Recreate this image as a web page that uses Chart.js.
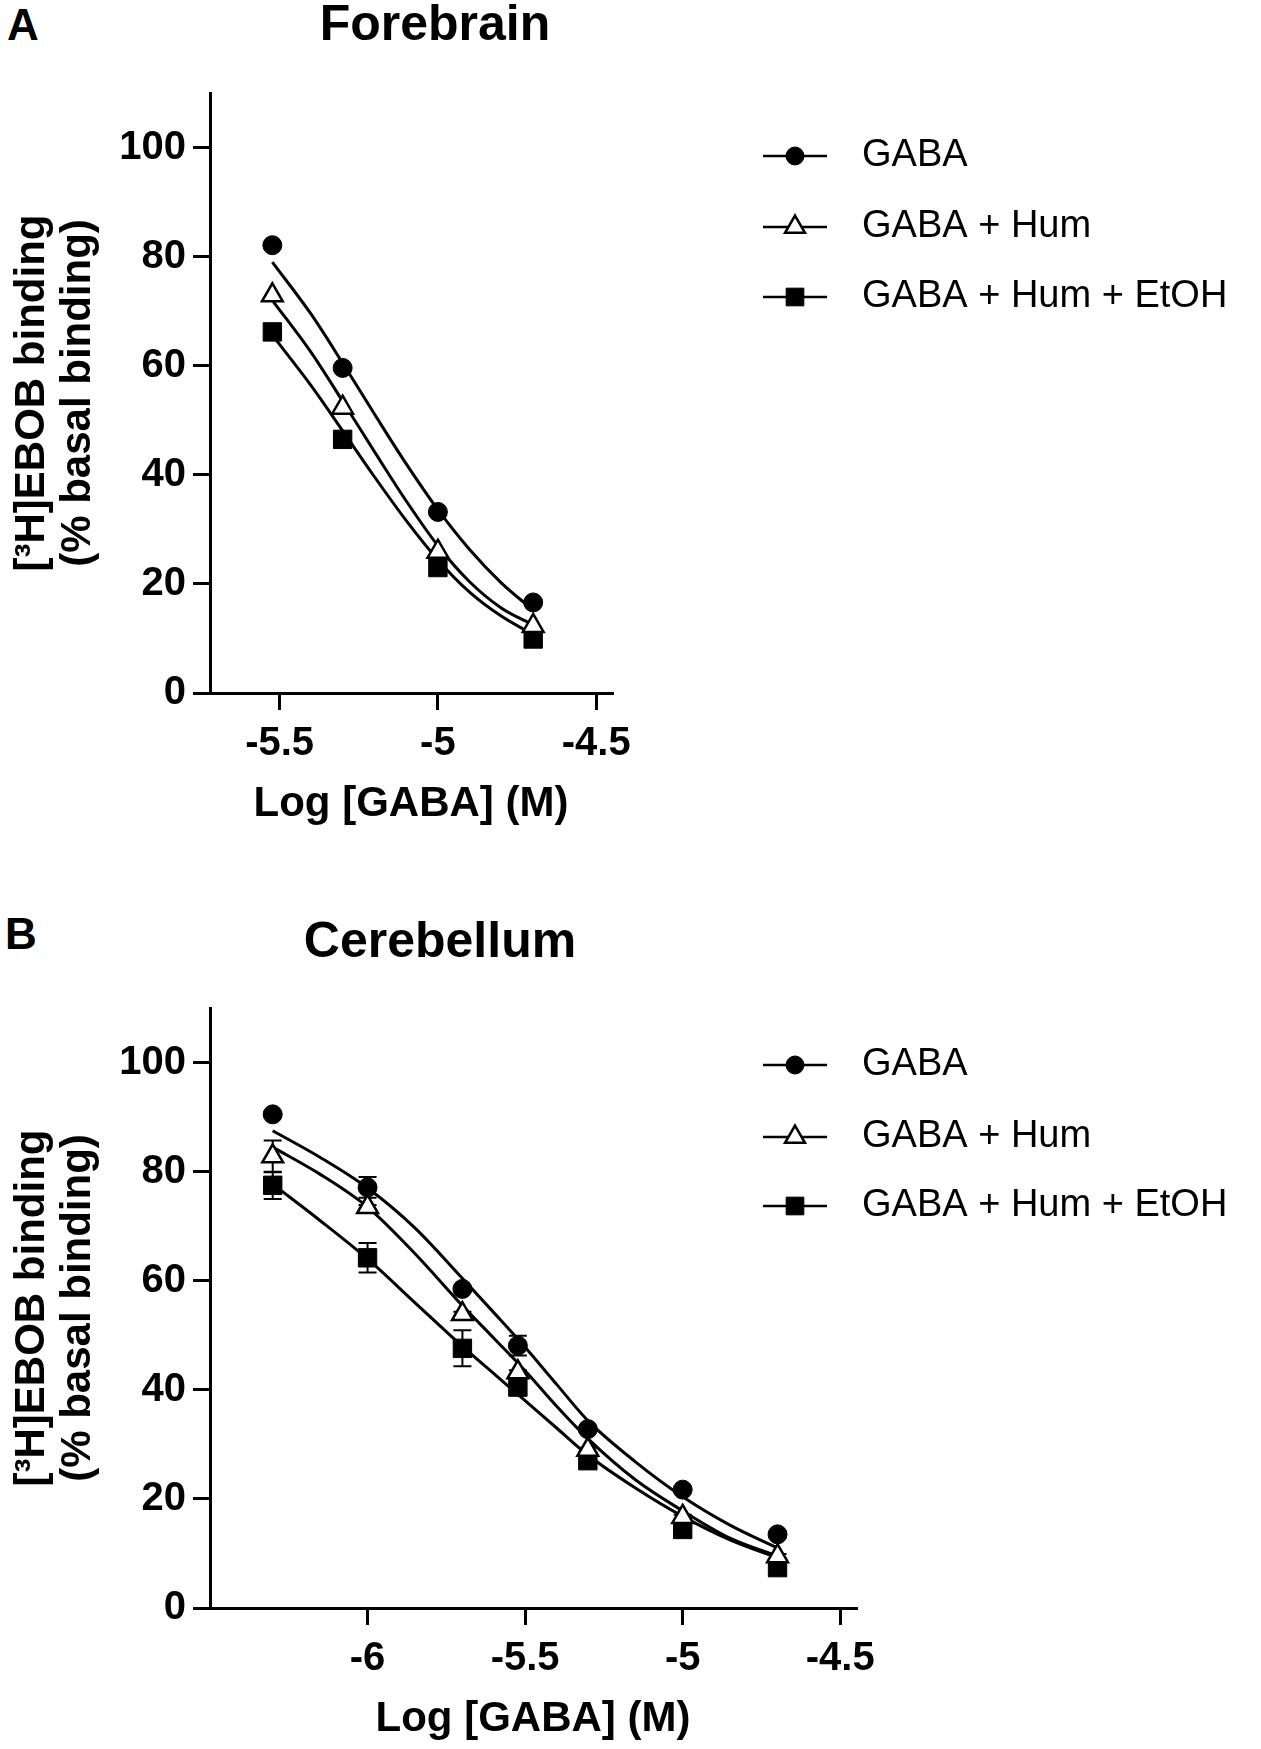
<!DOCTYPE html>
<html>
<head>
<meta charset="utf-8">
<script src="https://cdn.jsdelivr.net/npm/chart.js@4.4.0/dist/chart.umd.min.js"></script>
<style>
    body {
        margin: 0;
        background: #fff;
        width: 1261px;
        height: 1749px;
        position: relative;
        overflow: hidden;
        font-family: "Liberation Sans", Arial, sans-serif;
    }
    .lbl {
        position: absolute;
        font-weight: bold;
        line-height: 1;
        color: #000;
        white-space: nowrap;
        transform: translate(-50%, -50%);
    }
    .wrap {
        position: absolute;
        left: 0;
        width: 1261px;
        height: 830px;
    }
</style>
</head>
<body>
<div class="lbl" style="left:23px;top:25px;font-size:44px">A</div>
<div class="lbl" style="left:435px;top:23px;font-size:50px">Forebrain</div>
<div class="lbl" style="left:21px;top:934px;font-size:44px">B</div>
<div class="lbl" style="left:440px;top:940px;font-size:50px">Cerebellum</div>

<div class="wrap" style="top:0"><canvas id="chartA"></canvas></div>
<div class="wrap" style="top:915px"><canvas id="chartB"></canvas></div>

<script>
/* ================================
   Data
================================ */
const legendLabels = ["GABA", "GABA + Hum", "GABA + Hum + EtOH"];
const yTicks = [0, 20, 40, 60, 80, 100];

// A - Forebrain
const forebrainLogGaba = [-5.523, -5.301, -5.0, -4.699];
const forebrainGaba = [82.1, 59.6, 33.2, 16.6];
const forebrainHum = [72.9, 52.3, 25.9, 12.3];
const forebrainHumEtoh = [66.2, 46.5, 23.0, 9.9];

const forebrainFitX = [-5.523, -5.4, -5.3, -5.2, -5.1, -5.0, -4.9, -4.8, -4.699];
const forebrainFitGaba = [79, 69.4, 60.4, 51.1, 42, 33.6, 26.3, 20.2, 15.2];
const forebrainFitHum = [72, 62.4, 53.4, 44.2, 35.2, 27, 20.4, 15.6, 12.5];
const forebrainFitHumEtoh = [65.6, 56.3, 48.0, 39.6, 31.6, 24.4, 18.5, 14.1, 10.7];

const forebrainXTicks = [-5.5, -5, -4.5];
const forebrainXLabels = ["-5.5", "-5", "-4.5"];

// B - Cerebellum
const cerebellumLogGaba = [-6.301, -6.0, -5.699, -5.523, -5.301, -5.0, -4.699];
const cerebellumGaba = [90.5, 77.1, 58.5, 48.1, 32.8, 21.7, 13.5];
const cerebellumHum = [82.8, 73.5, 53.9, 43.2, 29.0, 16.7, 9.5];
const cerebellumHumEtoh = [77.5, 64.2, 47.6, 40.5, 27.0, 14.4, 7.4];

const cerebellumGabaSem = [0.5, 1.9, 0.5, 1.8, 0.5, 0.5, 0.5];
const cerebellumHumSem = [2.9, 0.4, 0.4, 0.4, 0.4, 0.4, 0.4];
const cerebellumHumEtohSem = [2.5, 2.7, 3.3, 1.4, 1.2, 1.0, 0.8];

const cerebellumFitX = [-6.301, -6.15, -6.0, -5.85, -5.7, -5.6, -5.5, -5.4, -5.3, -5.15, -5.0, -4.85, -4.699];
const cerebellumFitGaba = [87.5, 82.6, 77, 69.7, 60.5, 54.2, 47.8, 41, 34.3, 26.8, 20.4, 15.2, 11];
const cerebellumFitHum = [84.5, 79.5, 73.5, 65, 55.5, 49.5, 43.5, 37, 31, 23.5, 17.8, 12.8, 9.5];
const cerebellumFitHumEtoh = [77.7, 71, 64, 56, 48, 43, 38, 33, 28, 22, 16.8, 12.5, 9.2];

const cerebellumXTicks = [-6, -5.5, -5, -4.5];
const cerebellumXLabels = ["-6", "-5.5", "-5", "-4.5"];

/* ================================
   Styles
================================ */
const FONT = '"Liberation Sans", Arial, sans-serif';

const markerStyles = [
    { pointStyle: "circle", pointRadius: 9.5, pointBackgroundColor: "#000", pointBorderColor: "#000", pointBorderWidth: 1 },
    { pointStyle: "triangle", pointRadius: 12, pointBackgroundColor: "#fff", pointBorderColor: "#000", pointBorderWidth: 2.5 },
    { pointStyle: "rect", pointRadius: 13, pointBackgroundColor: "#000", pointBorderColor: "#000", pointBorderWidth: 1 },
];

function toPoints(xs, ys) {
    return xs.map(function (x, i) {
        return { x: x, y: ys[i] };
    });
}

function markerDataset(xs, ys, idx, sem) {
    return Object.assign({
        label: legendLabels[idx],
        data: toPoints(xs, ys),
        showLine: false,
        sem: sem || null,
        isMarker: true,
        legendIndex: idx,
    }, markerStyles[idx]);
}

function fitDataset(xs, ys) {
    return {
        data: toPoints(xs, ys),
        showLine: true,
        pointRadius: 0,
        borderColor: "#000",
        borderWidth: 3,
        cubicInterpolationMode: "monotone",
        fill: false,
    };
}

/* ================================
   Plugins: error bars + legend
================================ */
const errorBars = {
    id: "errorBars",
    beforeDatasetsDraw(chart) {
        const ctx = chart.ctx;
        const ys = chart.scales.y;
        ctx.save();
        ctx.strokeStyle = "#000";
        ctx.lineWidth = 2;
        chart.data.datasets.forEach(function (ds, di) {
            if (!ds.sem) return;
            const meta = chart.getDatasetMeta(di);
            meta.data.forEach(function (pt, i) {
                const v = ds.data[i].y;
                const top = ys.getPixelForValue(v + ds.sem[i]);
                const bot = ys.getPixelForValue(v - ds.sem[i]);
                ctx.beginPath();
                ctx.moveTo(pt.x, top);
                ctx.lineTo(pt.x, bot);
                ctx.moveTo(pt.x - 9, top);
                ctx.lineTo(pt.x + 9, top);
                ctx.moveTo(pt.x - 9, bot);
                ctx.lineTo(pt.x + 9, bot);
                ctx.stroke();
            });
        });
        ctx.restore();
    },
};

const sideLegend = {
    id: "sideLegend",
    afterDraw(chart, args, opts) {
        const ctx = chart.ctx;
        ctx.save();
        chart.data.datasets.forEach(function (ds) {
            if (!ds.isMarker) return;
            const y = opts.rows[ds.legendIndex];
            ctx.strokeStyle = "#000";
            ctx.lineWidth = 2.5;
            ctx.beginPath();
            ctx.moveTo(opts.lineX0, y);
            ctx.lineTo(opts.lineX1, y);
            ctx.stroke();

            ctx.fillStyle = ds.pointBackgroundColor;
            ctx.strokeStyle = ds.pointBorderColor;
            ctx.lineWidth = ds.pointBorderWidth;
            Chart.helpers.drawPoint(ctx, {
                pointStyle: ds.pointStyle,
                radius: ds.pointRadius - 0.5,
                borderWidth: ds.pointBorderWidth,
                rotation: 0,
            }, (opts.lineX0 + opts.lineX1) / 2, y);

            ctx.fillStyle = "#000";
            ctx.font = "38px " + FONT;
            ctx.textBaseline = "middle";
            ctx.textAlign = "left";
            ctx.fillText(ds.label, opts.textX, y);
        });
        ctx.restore();
    },
};

/* ================================
   Chart builder
================================ */
function buildChart(canvasId, datasets, xMin, xMax, xTicks, xLabels, rightEdge, rows) {
    const ctx = document.getElementById(canvasId).getContext("2d");
    return new Chart(ctx, {
        type: "scatter",
        data: { datasets: datasets },
        plugins: [errorBars, sideLegend],
        options: {
            responsive: true,
            maintainAspectRatio: false,
            animation: false,
            layout: {
                padding: { top: 93, left: 0, right: 1261 - rightEdge, bottom: 0 },
            },
            plugins: {
                legend: { display: false },
                tooltip: { enabled: false },
                sideLegend: { rows: rows, lineX0: 763, lineX1: 827, textX: 862 },
            },
            scales: {
                x: {
                    type: "linear",
                    min: xMin,
                    max: xMax,
                    afterFit: function (s) {
                        s.height = 137;
                    },
                    afterBuildTicks: function (s) {
                        s.ticks = xTicks.map(function (v) {
                            return { value: v };
                        });
                    },
                    border: { display: true, color: "#000", width: 3 },
                    grid: { display: true, drawOnChartArea: false, drawTicks: true, tickLength: 17, color: "#000", lineWidth: 3 },
                    ticks: {
                        autoSkip: false,
                        maxRotation: 0,
                        color: "#000",
                        padding: 10,
                        font: { family: FONT, size: 40, weight: "bold", lineHeight: 1.2 },
                        callback: function (value) {
                            const i = xTicks.indexOf(value);
                            return i >= 0 ? xLabels[i] : "";
                        },
                    },
                    title: {
                        display: true,
                        text: "Log [GABA] (M)",
                        color: "#000",
                        padding: { top: 0, bottom: 2 },
                        font: { family: FONT, size: 42, weight: "bold", lineHeight: 1.1 },
                    },
                },
                y: {
                    type: "linear",
                    min: 0,
                    max: 110,
                    afterFit: function (s) {
                        s.width = 210;
                    },
                    afterBuildTicks: function (s) {
                        s.ticks = yTicks.map(function (v) {
                            return { value: v };
                        });
                    },
                    border: { display: true, color: "#000", width: 3 },
                    grid: { display: true, drawOnChartArea: false, drawTicks: true, tickLength: 17, color: "#000", lineWidth: 3 },
                    ticks: {
                        autoSkip: false,
                        color: "#000",
                        padding: 7,
                        font: { family: FONT, size: 40, weight: "bold", lineHeight: 1.2 },
                    },
                    title: {
                        display: true,
                        text: ["[\u00B3H]EBOB binding", "(% basal binding)"],
                        color: "#000",
                        padding: { top: 9, bottom: 0 },
                        font: { family: FONT, size: 42, weight: "bold", lineHeight: 1.1 },
                    },
                },
            },
        },
    });
}

/* ================================
   Panel A - Forebrain
================================ */
buildChart("chartA", [
    markerDataset(forebrainLogGaba, forebrainGaba, 0),
    markerDataset(forebrainLogGaba, forebrainHum, 1),
    markerDataset(forebrainLogGaba, forebrainHumEtoh, 2),
    fitDataset(forebrainFitX, forebrainFitGaba),
    fitDataset(forebrainFitX, forebrainFitHum),
    fitDataset(forebrainFitX, forebrainFitHumEtoh),
], -5.72, -4.45, forebrainXTicks, forebrainXLabels, 612, [156, 227, 297]);

/* ================================
   Panel B - Cerebellum
================================ */
buildChart("chartB", [
    markerDataset(cerebellumLogGaba, cerebellumGaba, 0, cerebellumGabaSem),
    markerDataset(cerebellumLogGaba, cerebellumHum, 1, cerebellumHumSem),
    markerDataset(cerebellumLogGaba, cerebellumHumEtoh, 2, cerebellumHumEtohSem),
    fitDataset(cerebellumFitX, cerebellumFitGaba),
    fitDataset(cerebellumFitX, cerebellumFitHum),
    fitDataset(cerebellumFitX, cerebellumFitHumEtoh),
], -6.5, -4.45, cerebellumXTicks, cerebellumXLabels, 856, [150, 222, 291]);
</script>
</body>
</html>
